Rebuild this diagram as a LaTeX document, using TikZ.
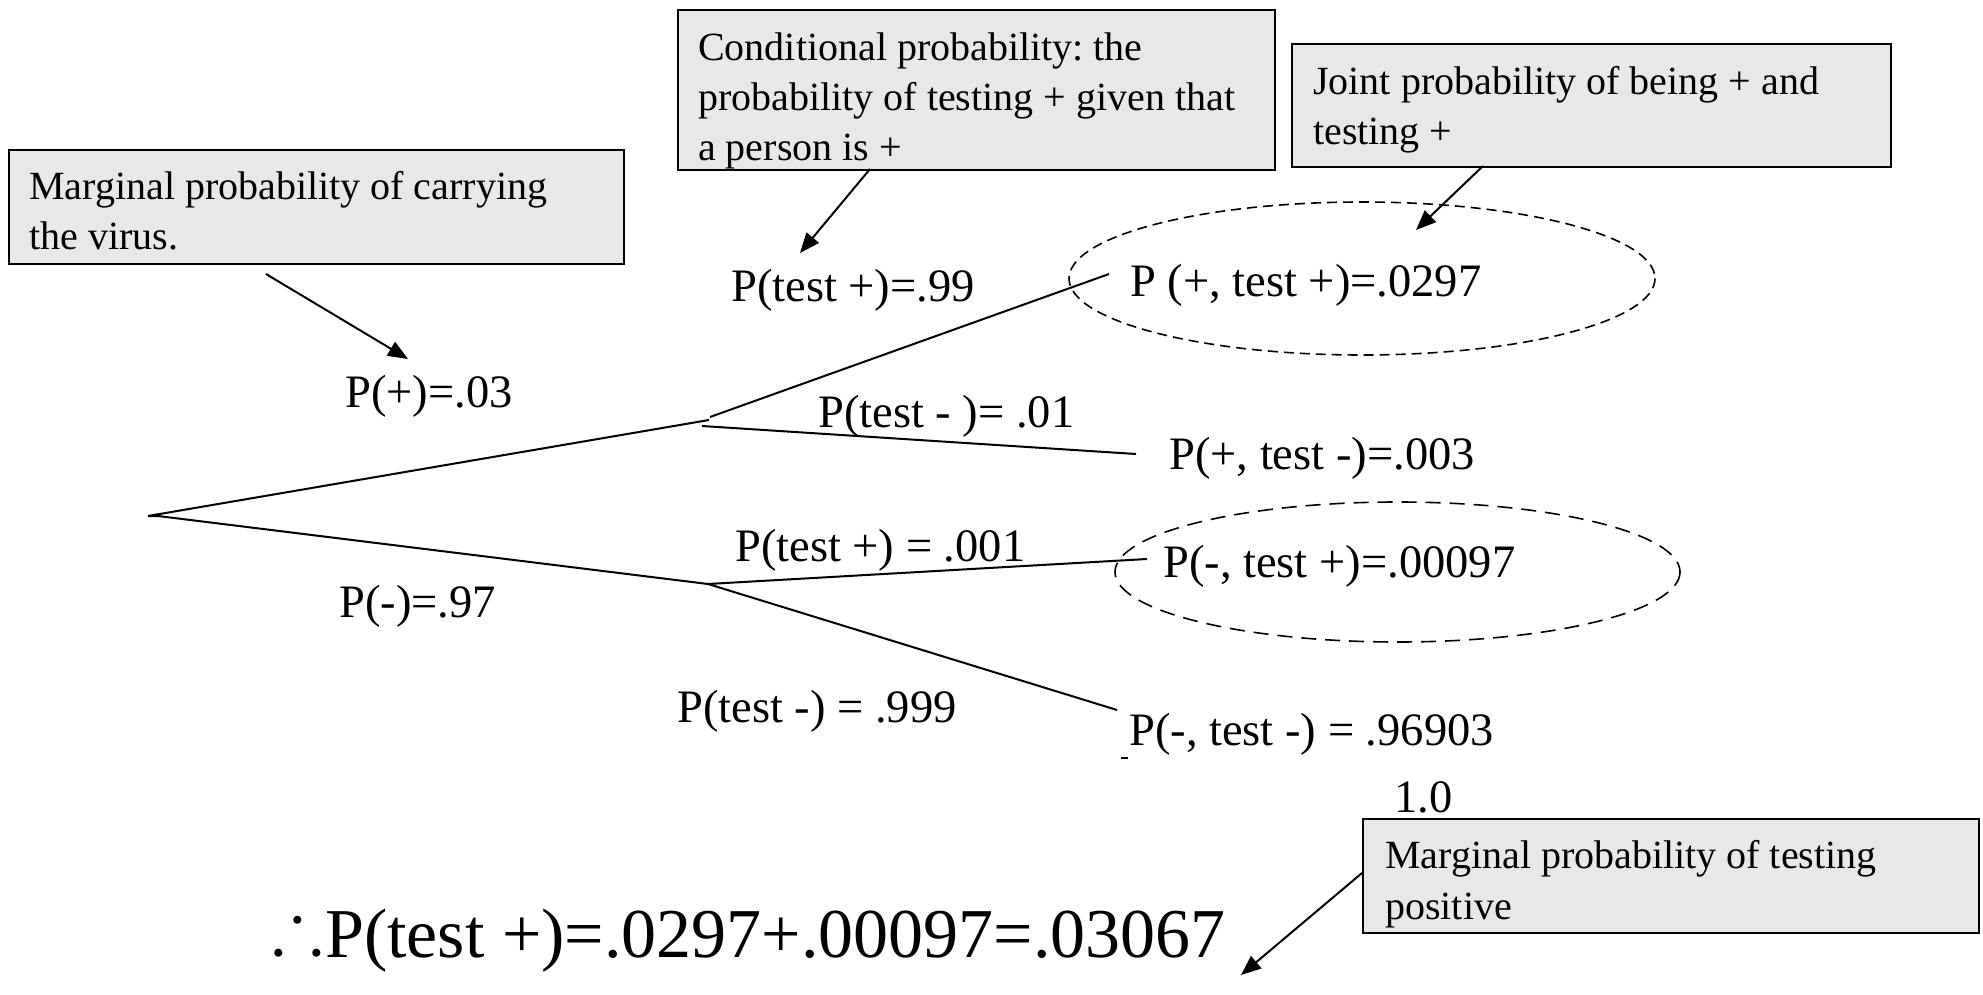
\documentclass[tikz,border=0pt]{standalone}
\usepackage{amssymb}
\usepackage{fontspec}
\setmainfont{Liberation Serif}
\usetikzlibrary{arrows.meta,calc}
\definecolor{boxgray}{RGB}{232,232,232}
\begin{document}
\frenchspacing
\begin{tikzpicture}[x=1pt,y=-1pt,
  note/.style={draw=black, line width=2pt, fill=boxgray,
    inner sep=0pt, anchor=north west},
  notetext/.style={font=\fontsize{40}{50}\selectfont, align=left,
    inner sep=0pt, anchor=north west},
  lab/.style={font=\fontsize{46.5}{50}\selectfont, inner sep=0pt, anchor=base west},
  branch/.style={line width=2pt},
  arr/.style={line width=2pt, -{Triangle[length=20pt,width=16pt]}},
  ring/.style={line width=1.6pt}]
\useasboundingbox (0,0) rectangle (1983,995);

% callout boxes (the \strut makes the first line 35pt tall above its baseline)
\node[note, minimum width=615pt, minimum height=114pt] (b1) at (7.6,149) {};
\node[notetext] (t1) at (29,164)
  {\strut Marginal probability of carrying\\the virus.};
\node[note, minimum width=597pt, minimum height=160pt] (b2) at (677,9) {};
\node[notetext] (t2) at (698,25)
  {\strut Conditional probability: the\\probability of testing + given that\\a person is +};
\node[note, minimum width=599pt, minimum height=123pt] (b3) at (1291,43) {};
\node[notetext] (t3) at (1313,59)
  {\strut Joint probability of being + and\\testing +};
\node[note, minimum width=616pt, minimum height=114pt] (b4) at (1362,818) {};
\node[notetext, font=\fontsize{40}{51}\selectfont] (t4) at (1385,833)
  {\strut Marginal probability of testing\\positive};

% tree points
\coordinate (root) at (148,516);
\coordinate (rootb) at (158,516);
\coordinate (up) at (709,420);
\coordinate (upa) at (710,417);
\coordinate (upb) at (702,426);
\coordinate (dn) at (708,584);
\coordinate (e1) at (1109,274);
\coordinate (e2) at (1136,454);
\coordinate (e3) at (1147,559);
\coordinate (e4) at (1117,710);

\draw[branch] (root) -- (up);
\draw[branch] (root) -- (rootb) -- (dn);
\draw[branch] (upa) -- (e1);
\draw[branch] (upb) -- (e2);
\draw[branch] (dn) -- (e3);
\draw[branch] (dn) -- (e4);

% branch labels
\node[lab] (pp) at (345,407) {P(+)=.03};
\node[lab] (pm) at (339,617) {P(-)=.97};
\node[lab] (tp1) at (731,301) {P(test +)=.99};
\node[lab] (tm1) at (818,427) {P(test - )= .01};
\node[lab] (tp2) at (735,561) {P(test +) = .001};
\node[lab] (tm2) at (677,722) {P(test -) = .999};

% outcomes
\node[lab] (o1) at (1130,296) {P (+, test +)=.0297};
\node[lab] (o2) at (1169,469) {P(+, test -)=.003};
\node[lab] (o3) at (1163,577) {P(-, test +)=.00097};
\node[lab] (o4) at (1129,745) {P(-, test -) = .96903};
\node[lab] (sum) at (1394,812) {1.0};
\draw[line width=2pt] (1121,758) -- (1128,758);

% dashed ellipses
\draw[ring, dash pattern=on 10pt off 6pt] (1362,278.5) ellipse [x radius=293, y radius=76.5];
\draw[ring, dash pattern=on 15pt off 9pt] (1397.5,572) ellipse [x radius=282.5, y radius=70];

% formula
\node[font=\fontsize{70}{84}\selectfont, inner sep=0pt, anchor=base west] (f) at (272,957)
  {\makebox[53pt][l]{\fontsize{76}{80}\selectfont\raisebox{6pt}{\(\therefore\)}}P(test +)=.0297+.00097=.03067};

% arrows
\coordinate (a1s) at (266,274);
\coordinate (a1e) at (408,359);
\coordinate (a2s) at (870,169);
\coordinate (a2e) at (800,253);
\coordinate (a3s) at (1483,166);
\coordinate (a3e) at (1416,230);
\coordinate (a4s) at (1362,873);
\coordinate (a4e) at (1241,975);
\draw[arr] (a1s) -- (a1e);
\draw[arr] (a2s) -- (a2e);
\draw[arr] (a3s) -- (a3e);
\draw[arr] (a4s) -- (a4e);
\end{tikzpicture}
\end{document}
